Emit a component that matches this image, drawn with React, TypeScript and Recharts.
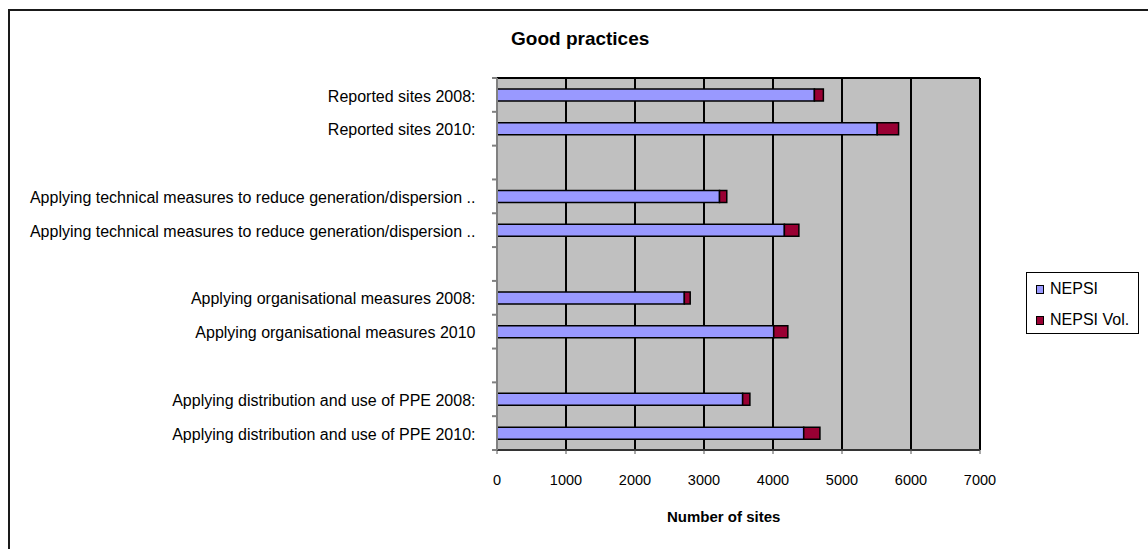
import React from "react";
import {
  BarChart,
  Bar,
  XAxis,
  YAxis,
  CartesianGrid,
  Legend,
} from "recharts";

const categories: string[] = [
  "Reported sites 2008:",
  "Reported sites 2010:",
  "",
  "Applying technical measures to reduce generation/dispersion ..",
  "Applying technical measures to reduce generation/dispersion ..",
  "",
  "Applying organisational  measures 2008:",
  "Applying organisational  measures 2010",
  "",
  "Applying distribution and use of PPE 2008:",
  "Applying distribution and use of PPE 2010:",
];

const nepsi: (number | null)[] = [4600, 5510, null, 3225, 4165, null, 2715, 4010, null, 3560, 4445];
const nepsiVol: (number | null)[] = [130, 310, null, 105, 210, null, 85, 205, null, 105, 235];

const xTicks: number[] = [0, 1000, 2000, 3000, 4000, 5000, 6000, 7000];

const seriesNames = ["NEPSI", "NEPSI Vol."];
const seriesColors = ["#9999ff", "#990033"];

const data = categories.map((name, i) => ({
  name,
  nepsi: nepsi[i],
  vol: nepsiVol[i],
}));

const FONT = '"Liberation Sans", Arial, sans-serif';
const Y_TICK_MARGIN = 20;

const CategoryTick = (props: any) => {
  const { x, y, payload, index, visibleTicksCount } = props;
  const half = payload && payload.offset ? payload.offset : 0;
  const axisX = x + Y_TICK_MARGIN;
  const isLast = index === visibleTicksCount - 1;
  return (
    <g>
      <line x1={axisX - 5} x2={axisX} y1={y - half} y2={y - half} stroke="#808080" strokeWidth={2} />
      {isLast && (
        <line x1={axisX - 5} x2={axisX} y1={y + half} y2={y + half} stroke="#808080" strokeWidth={2} />
      )}
      <text
        x={x - 1.5}
        y={y + 1}
        dy="0.355em"
        textAnchor="end"
        fill="#000"
        fontSize={16}
        fontFamily={FONT}
      >
        {payload.value}
      </text>
    </g>
  );
};

const renderLegend = (props: any) => {
  const payload = props.payload || [];
  return (
    <div
      style={{
        boxSizing: "border-box",
        width: 113,
        height: 62,
        border: "1px solid #000",
        background: "#fff",
        fontFamily: FONT,
        fontSize: 16,
        color: "#000",
        paddingTop: 8,
      }}
    >
      {payload.map((entry: any, i: number) => (
        <div
          key={i}
          style={{
            display: "flex",
            alignItems: "center",
            height: 16,
            marginBottom: i === 0 ? 15 : 0,
            paddingLeft: 9,
          }}
        >
          <span
            style={{
              display: "inline-block",
              width: 6,
              height: 7,
              border: "1px solid #000",
              background: entry.color,
              marginRight: 6,
            }}
          />
          <span>{entry.value}</span>
        </div>
      ))}
    </div>
  );
};

export default function App() {
  return (
    <div
      style={{
        position: "absolute",
        left: 0,
        top: 0,
        width: 1148,
        height: 549,
        background: "#fff",
        overflow: "hidden",
      }}
    >
      <style>{`body{margin:0;overflow:hidden;}`}</style>
      <div
        style={{
          position: "absolute",
          left: 8,
          top: 9,
          width: 1200,
          height: 600,
          borderLeft: "2px solid #1a1a1a",
          borderTop: "2px solid #1a1a1a",
        }}
      />
      <div
        style={{
          position: "absolute",
          left: 511,
          top: 28,
          fontFamily: FONT,
          fontSize: 19,
          fontWeight: "bold",
          color: "#000",
          whiteSpace: "nowrap",
        }}
      >
        Good practices
      </div>
      <div
        style={{
          position: "absolute",
          left: 667,
          top: 508,
          fontFamily: FONT,
          fontSize: 15,
          fontWeight: "bold",
          color: "#000",
          whiteSpace: "nowrap",
        }}
      >
        Number of sites
      </div>
      <div style={{ position: "absolute", left: 0, top: 0 }}>
        <BarChart
          width={1148}
          height={549}
          data={data}
          layout="vertical"
          barSize={12}
          barGap={0}
          margin={{ top: 77, right: 168, bottom: 59, left: 0 }}
        >
          <CartesianGrid
            horizontal={false}
            vertical={true}
            stroke="#000"
            strokeWidth={2}
            fill="#c0c0c0"
            fillOpacity={1}
          />
          <XAxis
            xAxisId="top"
            orientation="top"
            type="number"
            domain={[0, 7000]}
            ticks={xTicks}
            height={1}
            axisLine={{ stroke: "#000", strokeWidth: 2 }}
            tickLine={false}
            tick={{ fill: "none", fontSize: 1 }}
            tickFormatter={() => ""}
          />
          <XAxis
            type="number"
            domain={[0, 7000]}
            ticks={xTicks}
            interval={0}
            height={40}
            axisLine={{ stroke: "#333", strokeWidth: 2 }}
            tickLine={{ stroke: "#555" }}
            tickSize={4}
            tickMargin={21}
            tick={{ fill: "#000", fontSize: 14.5, fontFamily: FONT }}
          />
          <YAxis
            type="category"
            dataKey="name"
            width={497}
            interval={0}
            axisLine={{ stroke: "#808080", strokeWidth: 2 }}
            tickLine={false}
            tickSize={0}
            tickMargin={Y_TICK_MARGIN}
            tick={<CategoryTick />}
          />
          <Bar
            dataKey="nepsi"
            name={seriesNames[0]}
            stackId="a"
            fill={seriesColors[0]}
            stroke="#000"
            strokeWidth={1.5}
            isAnimationActive={false}
          />
          <Bar
            dataKey="vol"
            name={seriesNames[1]}
            stackId="a"
            fill={seriesColors[1]}
            stroke="#000"
            strokeWidth={1.5}
            isAnimationActive={false}
          />
          <Legend
            layout="vertical"
            align="center"
            verticalAlign="middle"
            content={renderLegend}
            wrapperStyle={{ position: "absolute", left: 1026, top: 272, width: 113, height: 62 }}
          />
        </BarChart>
      </div>
    </div>
  );
}
